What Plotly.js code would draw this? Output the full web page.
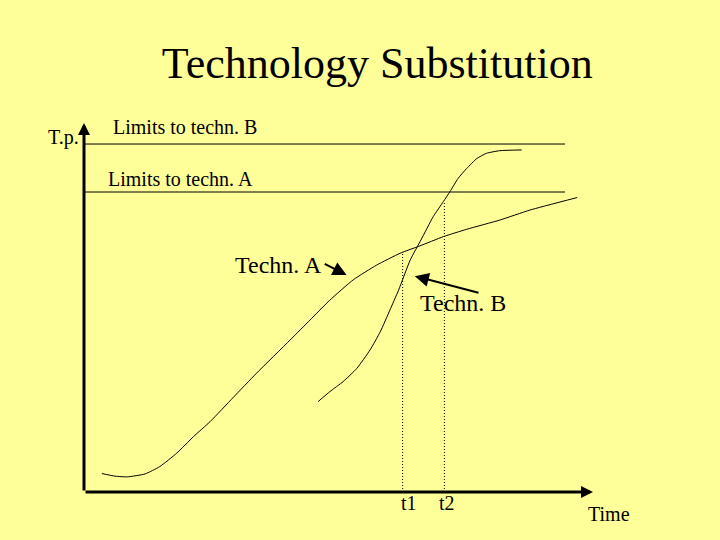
<!DOCTYPE html>
<html>
<head>
<meta charset="utf-8">
<script src="https://cdn.plot.ly/plotly-3.0.1.min.js"></script>
<style>html,body{margin:0;padding:0;background:#FFFF99;}#chart{width:720px;height:540px;}</style>
</head>
<body>
<div id="chart"></div>
<script>
// Technology A performance curve (time, technical performance)
var techATime = [3.5, 6.1, 8.5, 12.0, 14.9, 18.2, 21.5, 24.8, 29.3, 33.9, 40.5, 44.4, 48.3, 52.9, 57.5, 62.1, 66.0, 70.6, 75.2, 81.7, 87.6, 96.9];
var techAPerf = [5.0, 4.3, 4.1, 4.9, 6.9, 10.5, 15.0, 19.1, 25.6, 32.2, 41.2, 46.6, 52.0, 57.5, 61.5, 64.7, 66.7, 69.2, 71.2, 73.7, 76.4, 79.8];
// Technology B performance curve
var techBTime = [46.0, 48.3, 50.9, 53.6, 56.2, 58.2, 60.1, 61.8, 64.1, 66.2, 68.6, 70.6, 71.9, 73.5, 75.2, 77.2, 79.1, 81.7, 86.0];
var techBPerf = [24.5, 27.2, 29.9, 33.5, 38.5, 43.4, 49.3, 54.7, 62.9, 68.3, 74.6, 78.7, 81.4, 85.0, 87.7, 90.4, 91.8, 92.5, 92.7];
// Limits
var limitTime = [0, 94.5];
var limitB = 94.3;
var limitA = 81.3;
// Marked times
var tLabels = ["t1", "t2"];
var tTimes = [62.6, 70.8];
var tTops = [64.8, 78.6];
// Labels
var titleText = "Technology Substitution";
var yLabel = "T.p.";
var xLabel = "Time";
var limitBLabel = "Limits to techn. B";
var limitALabel = "Limits to techn. A";
var techALabel = "Techn. A";
var techBLabel = "Techn. B";

var serif = "Liberation Serif";
var thin = {color: "#000", width: 1};

var traces = [
  {x: techATime, y: techAPerf, mode: "lines", line: {color: "#000", width: 1, shape: "spline", smoothing: 0.5}},
  {x: techBTime, y: techBPerf, mode: "lines", line: {color: "#000", width: 1, shape: "spline", smoothing: 0.5}},
  {x: limitTime, y: [limitB, limitB], mode: "lines", line: thin},
  {x: limitTime, y: [limitA, limitA], mode: "lines", line: thin}
];
for (var i = 0; i < tTimes.length; i++) {
  traces.push({x: [tTimes[i], tTimes[i]], y: [0, tTops[i]], mode: "lines", line: {color: "#000", width: 1, dash: "1px,2px"}});
}

function txt(t, x, y, size) {
  return {text: t, x: x, y: y, xref: "paper", yref: "paper", showarrow: false,
    xanchor: "center", yanchor: "middle", font: {family: serif, size: size, color: "#000"}};
}
function arrow(x, y, ax, ay, w, s) {
  return {text: "", x: x, y: y, ax: ax, ay: ay, xref: "x", yref: "y", axref: "x", ayref: "y",
    showarrow: true, arrowhead: 2, arrowsize: s, arrowwidth: w, arrowcolor: "#000", standoff: 0, startstandoff: 0};
}

var annotations = [
  arrow(0, 100, 0, 0, 3, 0.8),
  arrow(100, 0, 0, 0, 3, 0.8),
  arrow(51.6, 58.8, 47.0, 62.0, 2, 1.4),
  arrow(65.0, 58.5, 77.8, 53.9, 2, 1.4),
  txt(yLabel, -0.041, 0.960, 20),
  txt(xLabel, 1.031, -0.060, 20),
  txt(limitBLabel, 0.198, 0.990, 20),
  txt(limitALabel, 0.189, 0.847, 20),
  txt(techALabel, 0.383, 0.615, 24),
  txt(techBLabel, 0.745, 0.511, 24)
];
var tLabelX = [0.638, 0.713];
for (var j = 0; j < tLabels.length; j++) {
  annotations.push(txt(tLabels[j], tLabelX[j], -0.031, 20));
}

var layout = {
  width: 720, height: 540,
  paper_bgcolor: "#FFFF99", plot_bgcolor: "#FFFF99",
  margin: {l: 84, r: 127, t: 123, b: 48},
  showlegend: false,
  hovermode: false,
  title: {text: titleText, x: 0.524, xref: "container", xanchor: "center", y: 0.885, yref: "container", yanchor: "middle",
    font: {family: serif, size: 44, color: "#000"}},
  xaxis: {range: [0, 100], visible: false, fixedrange: true},
  yaxis: {range: [0, 100], visible: false, fixedrange: true},
  annotations: annotations
};

Plotly.newPlot("chart", traces, layout, {staticPlot: true, displayModeBar: false});
</script>
</body>
</html>
